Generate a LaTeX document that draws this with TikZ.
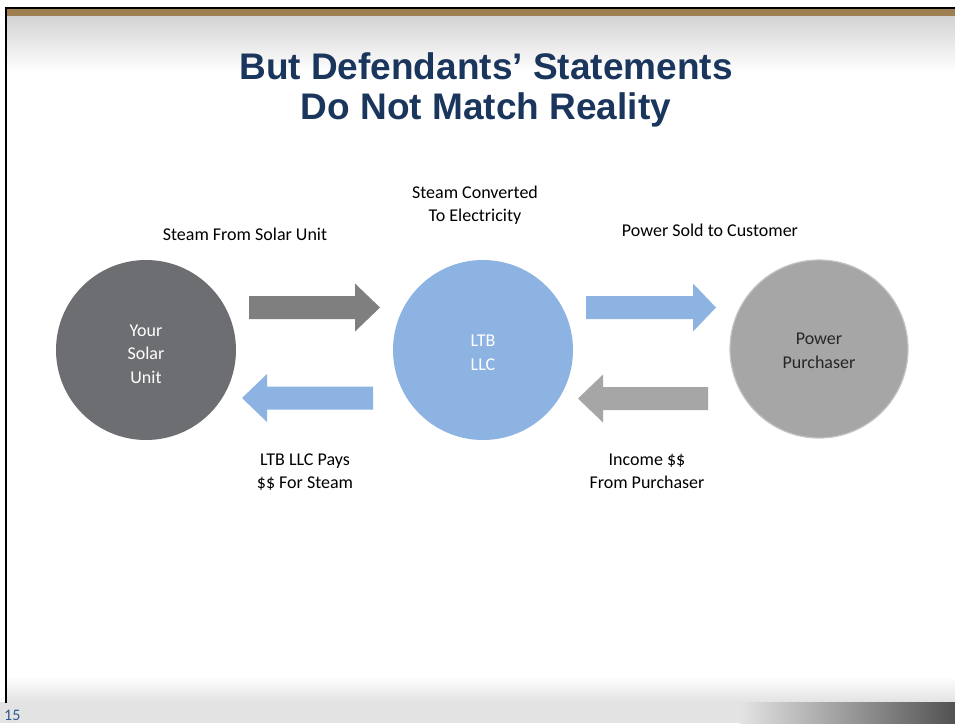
\documentclass[tikz,border=0pt]{standalone}
\usepackage{fontspec}
\setmainfont{Carlito}
\newfontfamily\titlefont{Liberation Sans}
\usetikzlibrary{calc}

\definecolor{titleblue}{HTML}{1B365D}
\definecolor{bandbrown}{HTML}{9E7F52}
\definecolor{solargray}{HTML}{6D6E71}
\definecolor{ltbblue}{HTML}{8DB3E2}
\definecolor{buyergray}{HTML}{A6A6A6}
\definecolor{buyerrim}{HTML}{C4C4C4}
\definecolor{arrowgray}{HTML}{7F7F7F}
\definecolor{pagenum}{HTML}{2E5A8C}

% block arrow: colour, tail x, head-base x, tip x, centre y
\newcommand{\blockarrow}[5]{%
  \fill[#1] (#2,#5-11.5) -- (#3,#5-11.5) -- (#3,#5-24) -- (#4,#5)
    -- (#3,#5+24) -- (#3,#5+11.5) -- (#2,#5+11.5) -- cycle;}

\begin{document}
\begin{tikzpicture}[x=1pt,y=-1pt,
  lbl/.style={font=\fontsize{18}{23}\selectfont, align=center, anchor=base, inner sep=0pt},
  party/.style={circle, minimum size=180pt, inner sep=0pt},
  inlbl/.style={font=\fontsize{18}{23.5}\selectfont, align=center, anchor=base, inner sep=0pt}]

\useasboundingbox (0,0) rectangle (955,723);
\fill[white] (0,0) rectangle (955,723);

% slide frame: header band and fades
\shade[top color=gray!35, bottom color=white] (6,15) rectangle (955,72);
\fill[bandbrown] (6,8.5) rectangle (955,15.5);
\shade[top color=white, bottom color=gray!22] (6,676) rectangle (955,702);
\fill[gray!22] (0,702) rectangle (955,723);
\shade[left color=gray!22, right color=black!68] (740,702) rectangle (955,723);
\draw[black, line width=2pt] (6,703) -- (6,7.5) -- (955,7.5);
\node[font=\fontsize{16}{18}\selectfont, text=pagenum, anchor=base west, inner sep=0pt] (num) at (4,720) {15};

% title (anchor sits on the baseline of the last line)
\node[font=\titlefont\bfseries\fontsize{37}{40}\selectfont, text=titleblue, align=center, anchor=base, inner sep=0pt] (title) at (486,119) {But Defendants’ Statements\\Do Not Match Reality};

% the three parties
\node[party, fill=solargray] (solar) at (146,350) {};
\node[party, fill=ltbblue] (ltb) at (483,350) {};
\node[party, fill=buyergray, draw=buyerrim, line width=1.2pt, minimum size=178pt] (buyer) at (819,349) {};

\node[inlbl, text=white] (solartxt) at (146,383) {Your\\Solar\\Unit};
\node[inlbl, text=white] (ltbtxt) at (483,370) {LTB\\LLC};
\node[inlbl, text=black!85] (buyertxt) at (819,368) {Power\\Purchaser};

% flows between the parties
\blockarrow{arrowgray}{249}{355}{380}{307.5}
\blockarrow{ltbblue}{373}{267}{242}{398}
\blockarrow{ltbblue}{586}{693}{716}{307.5}
\blockarrow{buyergray}{708}{603}{578}{398.5}

% flow labels
\node[lbl] (steamlbl) at (245,240) {Steam From Solar Unit};
\node[lbl] (convlbl) at (475,221) {Steam Converted\\To Electricity};
\node[lbl] (soldlbl) at (710,236) {Power Sold to Customer};
\node[lbl] (paylbl) at (305,488) {LTB LLC Pays\\\$\$ For Steam};
\node[lbl] (incomelbl) at (647,488) {Income \$\$\\From Purchaser};
\end{tikzpicture}
\end{document}
